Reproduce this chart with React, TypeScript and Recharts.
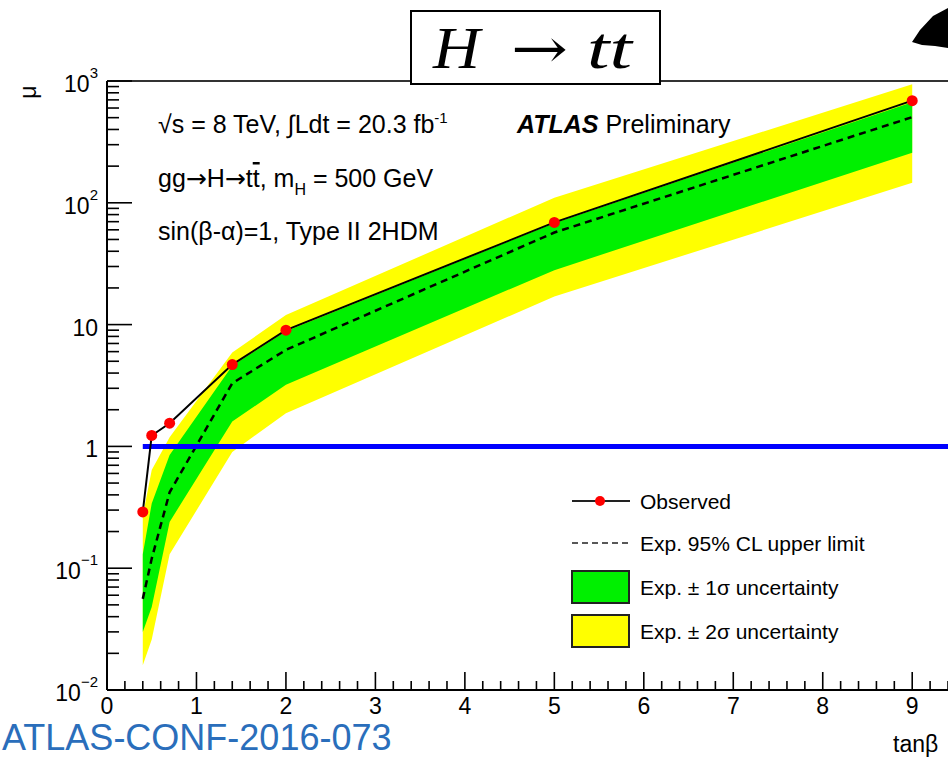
import React from 'react';
import { Area, ComposedChart, Line, ReferenceLine, XAxis, YAxis } from 'recharts';

// tanβ のスキャン点
const tanBeta = [0.4, 0.5, 0.7, 1.4, 2, 5, 9];
// 観測上限 μ
const observed = [0.29, 1.23, 1.55, 4.7, 9.0, 69, 690];
// 期待上限 (95% CL)
const expected = [0.056, 0.12, 0.42, 3.3, 6.2, 57, 505];
// ±1σ バンド
const oneSigmaLow = [0.03, 0.048, 0.24, 1.6, 3.2, 28, 258];
const oneSigmaHigh = [0.13, 0.34, 0.85, 4.6, 8.8, 68, 670];
// ±2σ バンド
const twoSigmaLow = [0.016, 0.026, 0.13, 0.9, 1.87, 17, 146];
const twoSigmaHigh = [0.27, 0.64, 1.19, 5.9, 12, 110, 940];

// μ = 1 の基準線
const unityStart = 0.4;
const unityMu = 1;

// 軸の目盛り
const X_MAX = 9.4;
const majorX = [0, 1, 2, 3, 4, 5, 6, 7, 8, 9];
const minorXStep = 0.2;
const majorY = [0.01, 0.1, 1, 10, 100, 1000];
const majorYExp = ['-2', '-1', '', '', '2', '3'];
const majorYBase = ['10', '10', '1', '10', '10', '10'];
const minorYMult = [2, 3, 4, 5, 6, 7, 8, 9];

const xTicks = Array.from({ length: Math.round(X_MAX / minorXStep) + 1 }, (_, i) => Math.round(i * minorXStep * 10) / 10);
const yTicks = [
  ...majorY,
  ...majorY.slice(0, -1).flatMap((d) => minorYMult.map((m) => d * m)),
].sort((a, b) => a - b);

const chartData = tanBeta.map((x, i) => ({
  x,
  observed: observed[i],
  expected: expected[i],
  oneSigma: [oneSigmaLow[i], oneSigmaHigh[i]],
  twoSigma: [twoSigmaLow[i], twoSigmaHigh[i]],
}));

const SANS = '"Liberation Sans", Arial, Helvetica, sans-serif';
const SERIF = '"Liberation Serif", "DejaVu Serif", serif';

function YTick(props: any) {
  const x = Number(props.x);
  const y = Number(props.y);
  const v = Number(props.payload.value);
  const idx = majorY.findIndex((m) => Math.abs(Math.log10(m) - Math.log10(v)) < 1e-6);
  const isMajor = idx >= 0;
  const len = isMajor ? 25 : 12;
  return (
    <g>
      <path d={`M${x},${y}H${x + len}`} stroke="#000" strokeWidth={1.6} fill="none" />
      {isMajor && (
        <text x={98} y={y + 11} textAnchor="end" fontFamily={SANS} fontSize={23} fill="#000">
          <tspan>{majorYBase[idx]}</tspan>
          {majorYExp[idx] && (
            <tspan dy={-14} fontSize={15}>
              {majorYExp[idx].replace('-', '\u2212')}
            </tspan>
          )}
        </text>
      )}
    </g>
  );
}

function XTick(props: any) {
  const x = Number(props.x);
  const y = Number(props.y);
  const v = Number(props.payload.value);
  const isMajor = majorX.some((m) => Math.abs(m - v) < 1e-6);
  const len = isMajor ? 18 : 9;
  return (
    <g>
      <path d={`M${x},${y}V${y - len}`} stroke="#000" strokeWidth={1.6} fill="none" />
      {isMajor && (
        <text x={x} y={y + 24} textAnchor="middle" fontFamily={SANS} fontSize={23} fill="#000">
          {v}
        </text>
      )}
    </g>
  );
}

function Overlay() {
  return (
    <svg width={948} height={760} style={{ position: 'absolute', left: 0, top: 0, pointerEvents: 'none' }}>
      {/* タイトルボックス */}
      <rect x={411} y={11} width={249} height={73} fill="#fff" stroke="#000" strokeWidth={2} />
      <text x={433} y={68} fontFamily={SERIF} fontStyle="italic" fontSize={60} textLength={47} lengthAdjust="spacingAndGlyphs">
        H
      </text>
      <text x={511} y={68} fontFamily='"DejaVu Serif", serif' fontSize={56} textLength={57} lengthAdjust="spacingAndGlyphs">
        →
      </text>
      <text x={587} y={68} fontFamily={SERIF} fontStyle="italic" fontSize={60} textLength={45} lengthAdjust="spacingAndGlyphs">
        tt
      </text>
      {/* ロゴの一部 */}
      <path d="M912,42 L920,30 L933,16 L948,8 L948,48 L935,46 L922,45 Z" fill="#000" />

      {/* y 軸タイトル */}
      <text x={28} y={92} transform="rotate(-90 28 92)" textAnchor="middle" dominantBaseline="central" fontFamily={SANS} fontSize={23}>
        μ
      </text>
      {/* x 軸タイトル */}
      <text x={893} y={752} fontFamily={SANS} fontSize={23}>
        tanβ
      </text>

      {/* 注記 */}
      <text x={158} y={133} fontFamily={SANS} fontSize={25}>
        √s = 8 TeV, ∫Ldt = 20.3 fb
        <tspan dy={-10} fontSize={15}>
          -1
        </tspan>
      </text>
      <text x={517} y={133} fontFamily={SANS} fontSize={25}>
        <tspan fontWeight="bold" fontStyle="italic">
          ATLAS
        </tspan>
        <tspan> Preliminary</tspan>
      </text>
      <text x={158} y={187} fontFamily={SANS} fontSize={25}>
        gg<tspan fontFamily='"DejaVu Sans", sans-serif'>→</tspan>H
        <tspan fontFamily='"DejaVu Sans", sans-serif'>→</tspan>t<tspan textDecoration="overline">t</tspan>, m
        <tspan dy={8} fontSize={16}>
          H
        </tspan>
        <tspan dy={-8}> = 500 GeV</tspan>
      </text>
      <text x={158} y={240} fontFamily={SANS} fontSize={25}>
        sin(β-α)=1, Type II 2HDM
      </text>

      {/* 凡例 */}
      <line x1={572} x2={630} y1={501} y2={501} stroke="#222" strokeWidth={2} />
      <circle cx={600} cy={501} r={5} fill="#ff0000" />
      <text x={640} y={509} fontFamily={SANS} fontSize={21}>
        Observed
      </text>
      <line x1={572} x2={630} y1={543} y2={543} stroke="#222" strokeWidth={1.6} strokeDasharray="6 4" />
      <text x={640} y={551} fontFamily={SANS} fontSize={21}>
        Exp. 95% CL upper limit
      </text>
      <rect x={572} y={571} width={57} height={32} fill="#00f000" stroke="#222" strokeWidth={2} />
      <text x={640} y={595} fontFamily={SANS} fontSize={21}>
        Exp. ± 1σ uncertainty
      </text>
      <rect x={572} y={615} width={57} height={32} fill="#ffff00" stroke="#222" strokeWidth={2} />
      <text x={640} y={639} fontFamily={SANS} fontSize={21}>
        Exp. ± 2σ uncertainty
      </text>

      {/* 文書番号 */}
      <text x={2} y={750} fontFamily={SANS} fontSize={36} fill="#2a6ebb">
        ATLAS-CONF-2016-073
      </text>
    </svg>
  );
}

export default function App() {
  return (
    <div style={{ position: 'relative', width: 948, height: 760, background: '#fff', overflow: 'hidden' }}>
      <style>{'body{margin:0}'}</style>
      <ComposedChart width={948} height={760} data={chartData} margin={{ top: 81, right: 0, bottom: 0, left: 0 }}>
        <XAxis
          dataKey="x"
          type="number"
          domain={[0, X_MAX]}
          ticks={xTicks}
          interval={0}
          allowDataOverflow
          height={70}
          tickSize={0}
          tickMargin={0}
          tickLine={false}
          tick={<XTick />}
          axisLine={{ stroke: '#000', strokeWidth: 2 }}
        />
        <YAxis
          type="number"
          scale="log"
          domain={[0.01, 1000]}
          ticks={yTicks}
          interval={0}
          allowDataOverflow
          width={107}
          tickSize={0}
          tickMargin={0}
          tickLine={false}
          tick={<YTick />}
          axisLine={{ stroke: '#000', strokeWidth: 2 }}
        />
        <ReferenceLine y={1000} stroke="#333" strokeWidth={2} />
        <Area dataKey="twoSigma" type="linear" stroke="none" fill="#ffff00" fillOpacity={1} isAnimationActive={false} />
        <Area dataKey="oneSigma" type="linear" stroke="none" fill="#00f000" fillOpacity={1} isAnimationActive={false} />
        <Line
          dataKey="expected"
          type="linear"
          stroke="#000"
          strokeWidth={2.5}
          strokeDasharray="7 5"
          dot={false}
          isAnimationActive={false}
        />
        <ReferenceLine
          segment={[
            { x: unityStart, y: unityMu },
            { x: X_MAX, y: unityMu },
          ]}
          stroke="#0000ff"
          strokeWidth={5}
        />
        <Line
          dataKey="observed"
          type="linear"
          stroke="#000"
          strokeWidth={2}
          dot={{ r: 5.5, fill: '#ff0000', stroke: 'none' }}
          isAnimationActive={false}
        />
      </ComposedChart>
      <Overlay />
    </div>
  );
}
